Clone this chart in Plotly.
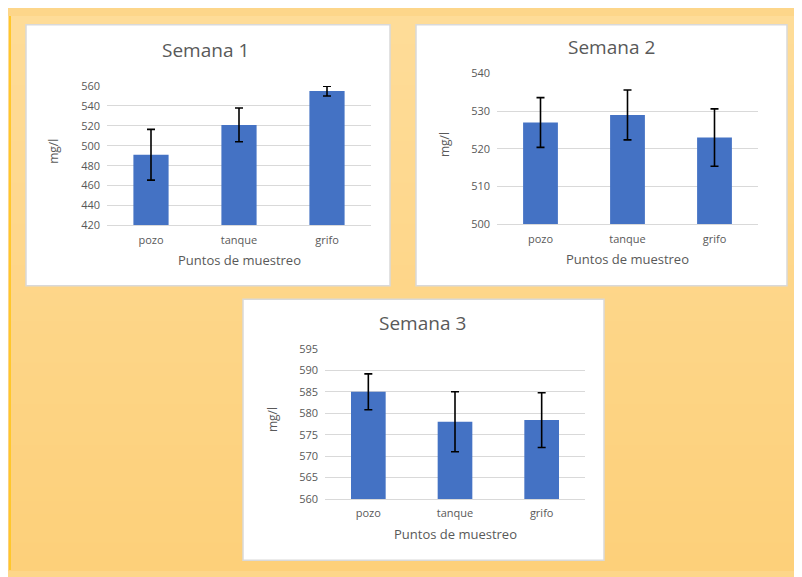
import plotly.graph_objects as go

# data
puntos = ["pozo", "tanque", "grifo"]

semana1 = [491, 521, 555]
semana1_err = [25.5, 17, 5]

semana2 = [527, 529, 523]
semana2_err = [6.6, 6.6, 7.6]

semana3 = [585, 578, 578.4]
semana3_err = [4.2, 7, 6.4]

titulos = ["Semana 1", "Semana 2", "Semana 3"]
rangos_y = [[420, 560], [500, 540], [560, 595]]
pasos_y = [20, 10, 5]

W, H = 794, 569
BAR = "#4472C4"
TXT = "#595959"
GRID = "#D9D9D9"
FONT = "Open Sans"


def px(x):
    return x / W


def py(y):
    return 1 - y / H


# panel boxes, plot areas (x0, y0, x1, y1) and title centres, in pixels
paneles = [(18, 9, 382, 277), (408, 9, 779, 277), (235, 291, 596, 559)]
areas = [(99, 72, 363, 215), (489, 59, 750, 214), (317, 342, 577, 496)]
pos_titulo = [(197, 35), (603, 32), (414, 315)]

fig = go.Figure()
series = [(semana1, semana1_err), (semana2, semana2_err), (semana3, semana3_err)]
for i, (vals, errs) in enumerate(series):
    sfx = "" if i == 0 else str(i + 1)
    fig.add_trace(go.Bar(x=puntos, y=vals, width=0.4, marker=dict(color=BAR, line=dict(width=0)),
                         error_y=dict(type="data", array=errs, visible=True, color="black",
                                      thickness=1.6, width=4),
                         xaxis="x" + sfx, yaxis="y" + sfx, showlegend=False, hoverinfo="y"))

shapes = []
# soft orange gradient behind everything
n = 40
top, bot = (254, 220, 152), (253, 208, 122)
for k in range(n):
    t = k / (n - 1)
    c = tuple(round(top[j] + (bot[j] - top[j]) * t) for j in range(3))
    shapes.append(dict(type="rect", xref="paper", yref="paper", x0=0, x1=1,
                       y0=1 - (k + 1) / n - 0.002, y1=1 - k / n,
                       fillcolor="rgb(%d,%d,%d)" % c, line=dict(width=0), layer="below"))
shapes.append(dict(type="rect", xref="paper", yref="paper", x0=px(1), x1=px(3), y0=0, y1=1,
                   fillcolor="#FFC72C", line=dict(width=0), layer="below"))
for (x0, y0, x1, y1) in paneles:
    shapes.append(dict(type="rect", xref="paper", yref="paper", x0=px(x0), x1=px(x1),
                       y0=py(y1), y1=py(y0), fillcolor="white",
                       line=dict(color=GRID, width=1.5), layer="below"))


def nota(text, x, y, size, angle=0):
    return dict(text=text, x=px(x), y=py(y), xref="paper", yref="paper", showarrow=False,
                xanchor="center", yanchor="middle", textangle=angle,
                font=dict(family=FONT, size=size, color=TXT))


annotations = []
layout_axes = {}
for i, (x0, y0, x1, y1) in enumerate(areas):
    sfx = "" if i == 0 else str(i + 1)
    layout_axes["xaxis" + sfx] = dict(domain=[px(x0), px(x1)], anchor="y" + sfx, type="category",
                                      showgrid=False, showline=True, linecolor=GRID, linewidth=1,
                                      ticks="", ticklabelstandoff=4,
                                      tickfont=dict(family=FONT, size=11, color=TXT), fixedrange=True)
    layout_axes["yaxis" + sfx] = dict(domain=[py(y1), py(y0)], anchor="x" + sfx, range=rangos_y[i],
                                      dtick=pasos_y[i], tick0=rangos_y[i][0], showgrid=True,
                                      gridcolor=GRID, gridwidth=1, zeroline=False, showline=False,
                                      ticks="", ticklabelstandoff=6,
                                      tickfont=dict(family=FONT, size=11, color=TXT), fixedrange=True)
    tx, ty = pos_titulo[i]
    annotations.append(nota(titulos[i], tx, ty, 19))
    annotations.append(nota("Puntos de muestreo", (x0 + x1) / 2, y1 + 36, 13))
    annotations.append(nota("mg/l", x0 - 53, (y0 + y1) / 2 - 4, 12, -90))

fig.update_layout(width=W, height=H, margin=dict(l=0, r=0, t=0, b=0),
                  paper_bgcolor="#FDD68A", plot_bgcolor="rgba(0,0,0,0)",
                  shapes=shapes, annotations=annotations, bargap=0.6,
                  font=dict(family=FONT, color=TXT), **layout_axes)

fig.write_html("out.html")
